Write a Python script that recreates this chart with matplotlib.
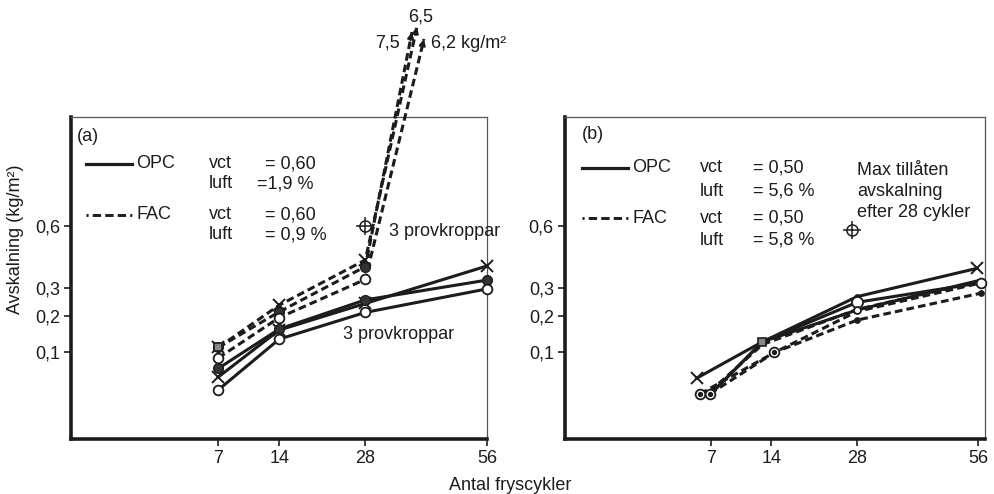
import numpy as np
import matplotlib.pyplot as plt

plt.rcParams['font.family'] = ['Liberation Sans', 'DejaVu Sans']
plt.rcParams['font.size'] = 13
plt.rcParams['lines.scale_dashes'] = False

INK = '#1c1c1c'
FS = 13

tick_x = [7, 14, 28, 56]
tick_y = [0.1, 0.2, 0.3, 0.6]
tick_y_labels = ['0,1', '0,2', '0,3', '0,6']

# max allowed scaling after 28 cycles
limit_cycles = 28
limit_value = 0.6

# (a) OPC, vct 0,60, luft 1,9 %
opc_a_cycles = [7, 14, 28, 56]
opc_a_cross = [0.051, 0.157, 0.243, 0.396]
opc_a_filled = [0.066, 0.160, 0.256, 0.334]
opc_a_open = [0.032, 0.132, 0.212, 0.298]

# (a) FAC, vct 0,60, luft 0,9 %  (56 cycles off scale)
fac_a_cycles = [7, 14, 28]
fac_a_cross = [0.111, 0.237, 0.424]
fac_a_filled = [0.111, 0.214, 0.393]
fac_a_open = [0.087, 0.195, 0.337]
fac_a_56 = [6.5, 7.5, 6.2]
# where the off-scale arrows stop
arrow_tip_x = [38.7, 37.6, 40.3]
arrow_tip_y = [2.245, 2.19, 2.116]

# (b) OPC, vct 0,50, luft 5,6 %
opc_b1_cycles = [5.7, 12.8, 28, 55.7]
opc_b1 = [0.049, 0.125, 0.268, 0.385]
opc_b2_cycles = [6.9, 12.8, 28, 56.7]
opc_b2 = [0.026, 0.125, 0.247, 0.323]
opc_b3_cycles = [6.9, 12.8, 28, 56.7]
opc_b3 = [0.026, 0.125, 0.220, 0.334]

# (b) FAC, vct 0,50, luft 5,8 %
fac_b1_cycles = [6.0, 14.4, 28, 56.7]
fac_b1 = [0.027, 0.099, 0.187, 0.281]
fac_b2_cycles = [6.9, 14.4, 28, 56.7]
fac_b2 = [0.027, 0.099, 0.215, 0.322]
fac_b3_cycles = [6.9, 12.8, 28, 56.7]
fac_b3 = [0.030, 0.118, 0.222, 0.330]


def sqrt_fwd(v):
    return np.sqrt(np.clip(v, 0, None))


def sqrt_inv(v):
    return np.square(v)


def setup_axes(ax, xmax):
    ax.set_xscale('function', functions=(sqrt_fwd, sqrt_inv))
    ax.set_yscale('function', functions=(sqrt_fwd, sqrt_inv))
    ax.set_xlim(0, xmax)
    ax.set_ylim(0, 1.371)
    ax.set_xticks(tick_x, [str(t) for t in tick_x])
    ax.set_yticks(tick_y, tick_y_labels)
    ax.minorticks_off()
    ax.tick_params(direction='out', length=5, width=1.2, color=INK,
                   labelsize=FS, labelcolor=INK, pad=3)
    for side in ['left', 'bottom']:
        ax.spines[side].set_linewidth(2.6)
        ax.spines[side].set_color(INK)
    for side in ['top', 'right']:
        ax.spines[side].set_linewidth(0.9)
        ax.spines[side].set_color('#555555')


def line(ax, x, y, dashed=False, **kw):
    style = dict(color=INK, lw=2.2, clip_on=False, zorder=3)
    if dashed:
        style['dashes'] = (5.5, 3)
    style.update(kw)
    ax.plot(x, y, **style)


def mark(ax, x, y, kind, size=7):
    if kind == 'x':
        ax.plot(x, y, 'x', ms=size + 2, mew=1.4, color=INK, zorder=5, clip_on=False)
    elif kind == 'filled':
        ax.plot(x, y, 'o', ms=size, color='#333333', mec=INK, zorder=5, clip_on=False)
    elif kind == 'open':
        ax.plot(x, y, 'o', ms=size, mfc='white', mec=INK, mew=1.3, zorder=5, clip_on=False)
    elif kind == 'dot':
        ax.plot(x, y, 'o', ms=size, mfc='white', mec=INK, mew=1.3, zorder=5, clip_on=False)
        ax.plot(x, y, 'o', ms=size * 0.4, color=INK, zorder=6, clip_on=False)
    elif kind == 'square':
        ax.plot(x, y, 's', ms=size * 0.9, mfc='#888888', mec=INK, mew=1.2, zorder=5, clip_on=False)
    elif kind == 'small':
        ax.plot(x, y, 'o', ms=size * 0.55, color=INK, zorder=5, clip_on=False)
    elif kind == 'limit':
        ax.plot(x, y, 'o', ms=size + 1, mfc='white', mec=INK, mew=1.1, zorder=5, clip_on=False)
        ax.plot(x, y, '+', ms=size + 6, mew=1.1, color=INK, zorder=6, clip_on=False)


def legend_block(ax, x0, x1, ys, vx, ex, names, vct, luft):
    kw = dict(transform=ax.transAxes, va='center', ha='left', fontsize=FS, color=INK)
    ax.plot([x0, x1], [ys[0], ys[0]], transform=ax.transAxes, color=INK, lw=2.3, clip_on=False)
    ax.plot([x0, x1], [ys[2], ys[2]], transform=ax.transAxes, color=INK, lw=2.1,
            dashes=(1.5, 3, 6, 3, 6, 3, 6, 3), clip_on=False)
    ax.text(x1 + 0.01, ys[0], names[0], **kw)
    ax.text(x1 + 0.01, ys[2], names[1], **kw)
    for i in range(2):
        ax.text(vx, ys[2 * i], 'vct', **kw)
        ax.text(vx, ys[2 * i + 1], 'luft', **kw)
        ax.text(ex[2 * i], ys[2 * i], vct[i], **kw)
        ax.text(ex[2 * i + 1], ys[2 * i + 1], luft[i], **kw)


def fmt(v):
    return f'{v:.1f}'.replace('.', ',')


fig = plt.figure(figsize=(9.95, 4.94), dpi=100)
ax_a = fig.add_axes([0.0718, 0.1113, 0.4177, 0.6518])
ax_b = fig.add_axes([0.5678, 0.1113, 0.4221, 0.6518])
setup_axes(ax_a, 56)
setup_axes(ax_b, 57.9)

# ---- panel (a)
line(ax_a, opc_a_cycles, opc_a_cross)
line(ax_a, opc_a_cycles, opc_a_filled)
line(ax_a, opc_a_cycles, opc_a_open)
for y, k in [(opc_a_cross, 'x'), (opc_a_filled, 'filled'), (opc_a_open, 'open')]:
    mark(ax_a, opc_a_cycles, y, k)

fac_a = [fac_a_cross, fac_a_filled, fac_a_open]
for i, y in enumerate(fac_a):
    line(ax_a, fac_a_cycles + [arrow_tip_x[i]], y + [arrow_tip_y[i]], dashed=True)
for y, k in [(fac_a_cross, 'x'), (fac_a_filled, 'filled'), (fac_a_open, 'open')]:
    mark(ax_a, fac_a_cycles, y, k)
mark(ax_a, fac_a_cycles[0], fac_a_filled[0], 'square')

# arrow heads at the off-scale ends
for i, y in enumerate(fac_a):
    p0 = ax_a.transData.transform((fac_a_cycles[-1], y[-1]))
    p1 = ax_a.transData.transform((arrow_tip_x[i], arrow_tip_y[i]))
    d = (p1 - p0) / np.hypot(*(p1 - p0))
    start = ax_a.transData.inverted().transform(p1 - d * 8)
    ax_a.annotate('', xy=(arrow_tip_x[i], arrow_tip_y[i]), xytext=start,
                  arrowprops=dict(arrowstyle='-|>', color=INK, lw=1.5,
                                  shrinkA=0, shrinkB=0, mutation_scale=9),
                  annotation_clip=False)

ax_a.annotate(fmt(fac_a_56[0]), xy=(arrow_tip_x[0], arrow_tip_y[0]), xytext=(3, 1),
              textcoords='offset points', ha='center', va='bottom', fontsize=FS,
              color=INK, annotation_clip=False)
ax_a.annotate(fmt(fac_a_56[1]), xy=(arrow_tip_x[1], arrow_tip_y[1]), xytext=(-9, -8),
              textcoords='offset points', ha='right', va='center', fontsize=FS,
              color=INK, annotation_clip=False)
ax_a.annotate(fmt(fac_a_56[2]) + ' kg/m²', xy=(arrow_tip_x[2], arrow_tip_y[2]), xytext=(5, -3),
              textcoords='offset points', ha='left', va='center', fontsize=FS,
              color=INK, annotation_clip=False)

mark(ax_a, limit_cycles, limit_value, 'limit')

ax_a.text(0.013, 0.94, '(a)', transform=ax_a.transAxes, va='center', ha='left',
          fontsize=FS, color=INK)
legend_block(ax_a, 0.035, 0.146, [0.855, 0.793, 0.696, 0.634], 0.331,
             [0.465, 0.447, 0.465, 0.465], ['OPC', 'FAC'],
             ['= 0,60', '= 0,60'], ['=1,9 %', '= 0,9 %'])
ax_a.text(0.764, 0.643, '3 provkroppar', transform=ax_a.transAxes, va='center',
          ha='left', fontsize=FS, color=INK)
ax_a.text(0.654, 0.326, '3 provkroppar', transform=ax_a.transAxes, va='center',
          ha='left', fontsize=FS, color=INK)

# ---- panel (b)
line(ax_b, opc_b1_cycles, opc_b1)
line(ax_b, opc_b2_cycles, opc_b2)
line(ax_b, opc_b3_cycles, opc_b3)
line(ax_b, fac_b1_cycles, fac_b1, dashed=True)
line(ax_b, fac_b2_cycles, fac_b2, dashed=True)
line(ax_b, fac_b3_cycles, fac_b3, dashed=True)

mark(ax_b, opc_b1_cycles[0], opc_b1[0], 'x')
mark(ax_b, opc_b1_cycles[-1], opc_b1[-1], 'x')
mark(ax_b, opc_b1_cycles[1], opc_b1[1], 'square')
mark(ax_b, opc_b1_cycles[2], opc_b1[2], 'small')
mark(ax_b, opc_b2_cycles[2], opc_b2[2], 'open', size=8)
mark(ax_b, opc_b2_cycles[-1], opc_b2[-1], 'open')
mark(ax_b, opc_b3_cycles[2], opc_b3[2], 'open', size=5)
mark(ax_b, fac_b1_cycles[0], fac_b1[0], 'dot')
mark(ax_b, fac_b2_cycles[0], fac_b2[0], 'dot')
mark(ax_b, fac_b1_cycles[1], fac_b1[1], 'dot')
mark(ax_b, fac_b1_cycles[2], fac_b1[2], 'small')
mark(ax_b, fac_b1_cycles[-1], fac_b1[-1], 'small')

mark(ax_b, limit_cycles - 1, limit_value - 0.02, 'limit')

ax_b.text(0.0405, 0.945, '(b)', transform=ax_b.transAxes, va='center', ha='left',
          fontsize=FS, color=INK)
legend_block(ax_b, 0.0405, 0.150, [0.842, 0.770, 0.686, 0.618], 0.321,
             [0.448, 0.448, 0.448, 0.448], ['OPC', 'FAC'],
             ['= 0,50', '= 0,50'], ['= 5,6 %', '= 5,8 %'])
for y, s in zip([0.835, 0.770, 0.705], ['Max tillåten', 'avskalning', 'efter 28 cykler']):
    ax_b.text(0.695, y, s, transform=ax_b.transAxes, va='center', ha='left',
              fontsize=FS, color=INK)

fig.text(510 / 995, 1 - 485 / 494, 'Antal fryscykler', ha='center', va='center',
         fontsize=FS, color=INK)
fig.text(16 / 995, 1 - 239 / 494, 'Avskalning (kg/m²)', ha='center', va='center',
         rotation=90, fontsize=FS, color=INK)

fig.savefig('out.png', dpi=100)
